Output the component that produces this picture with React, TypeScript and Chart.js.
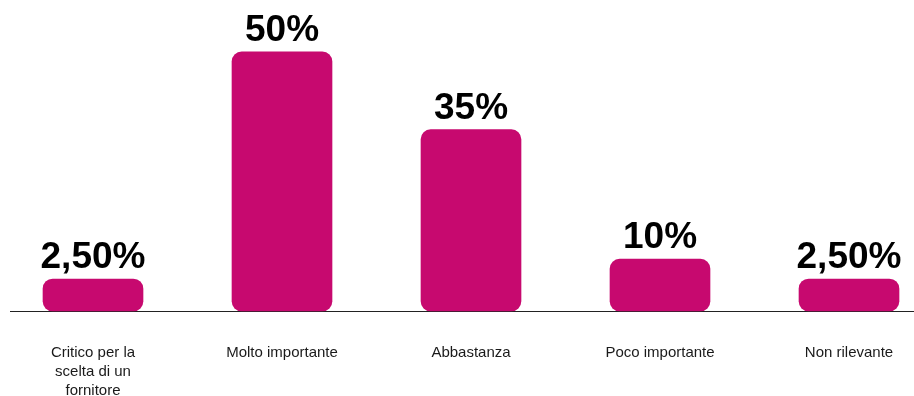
import React, { useEffect, useRef } from "react";
import { Chart, registerables } from "chart.js";

Chart.register(...registerables);

const categories: (string | string[])[] = [
  ["Critico per la", "scelta di un", "fornitore"],
  "Molto importante",
  "Abbastanza",
  "Poco importante",
  "Non rilevante",
];
const values: number[] = [2.5, 50, 35, 10, 2.5];
const valueLabels: string[] = ["2,50%", "50%", "35%", "10%", "2,50%"];

const BAR_COLOR = "#C7096F";

const baselinePlugin = {
  id: "baseline",
  beforeDatasetsDraw(chart: any) {
    const ctx = chart.ctx;
    const y = Math.round(chart.scales.y.getPixelForValue(0)) + 0.5;
    ctx.save();
    ctx.strokeStyle = "#222222";
    ctx.lineWidth = 1;
    ctx.beginPath();
    ctx.moveTo(10, y);
    ctx.lineTo(chart.width, y);
    ctx.stroke();
    ctx.restore();
  },
};

const valueLabelPlugin = {
  id: "valueLabels",
  afterDatasetsDraw(chart: any) {
    const ctx = chart.ctx;
    const meta = chart.getDatasetMeta(0);
    ctx.save();
    ctx.font = "bold 37px 'Liberation Sans', Arial, sans-serif";
    ctx.fillStyle = "#000000";
    ctx.textAlign = "center";
    ctx.textBaseline = "alphabetic";
    meta.data.forEach((bar: any, i: number) => {
      ctx.fillText(valueLabels[i], bar.x, bar.y - 11);
    });
    ctx.restore();
  },
};

export default function App() {
  const canvasRef = useRef<HTMLCanvasElement | null>(null);

  useEffect(() => {
    document.body.style.margin = "0";
    const canvas = canvasRef.current;
    if (!canvas) return;
    const chart = new Chart(canvas, {
      type: "bar",
      data: {
        labels: categories,
        datasets: [
          {
            data: values,
            backgroundColor: BAR_COLOR,
            borderRadius: 10,
            borderSkipped: false,
            barThickness: 100,
            minBarLength: 32,
            clip: false as any,
          },
        ],
      },
      options: {
        animation: false,
        responsive: true,
        maintainAspectRatio: false,
        layout: { padding: { left: 93, right: 65, top: 0, bottom: -36 } },
        plugins: {
          legend: { display: false },
          tooltip: { enabled: false },
        },
        scales: {
          x: {
            offset: false,
            grid: { display: false, drawTicks: false },
            border: { display: false },
            ticks: {
              padding: 32,
              maxRotation: 0,
              autoSkip: false,
              color: "#1a1a1a",
              font: { family: "'Liberation Sans', Arial, sans-serif", size: 15, lineHeight: 1.267 },
            },
            afterFit: (scale: any) => {
              scale.paddingLeft = 0;
              scale.paddingRight = 0;
            },
          },
          y: {
            display: false,
            min: 0,
            max: 60,
          },
        },
      },
      plugins: [baselinePlugin, valueLabelPlugin],
    });
    return () => chart.destroy();
  }, []);

  return (
    <div style={{ width: 914, height: 396, position: "relative" }}>
      <canvas ref={canvasRef} />
    </div>
  );
}
